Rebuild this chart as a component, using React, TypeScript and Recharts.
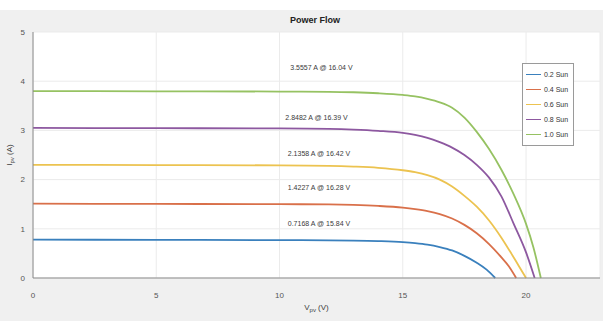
import {
  CartesianGrid,
  Line,
  LineChart,
  ReferenceDot,
  XAxis,
  YAxis,
} from 'recharts';

const FONT = '"Liberation Sans", Arial, sans-serif';

const SERIES_NAMES = ['0.2 Sun', '0.4 Sun', '0.6 Sun', '0.8 Sun', '1.0 Sun'];
const COLORS = ['#3a80bd', '#d9704a', '#ecc350', '#8d58a0', '#96c262'];

// I-V curves, V in volts, I in amps
const V_02 = [0, 5, 10, 12, 13, 14, 15, 15.5, 16, 16.5, 17, 17.5, 18, 18.4, 18.75];
const I_02 = [0.78, 0.775, 0.77, 0.765, 0.76, 0.75, 0.73, 0.71, 0.68, 0.63, 0.56, 0.45, 0.31, 0.17, 0];

const V_04 = [0, 5, 10, 12, 13, 14, 15, 15.5, 16, 16.5, 17, 17.5, 18, 18.5, 19, 19.3, 19.6];
const I_04 = [1.51, 1.505, 1.5, 1.495, 1.485, 1.465, 1.43, 1.4, 1.36, 1.3, 1.21, 1.08, 0.91, 0.69, 0.42, 0.24, 0];

const V_06 = [0, 5, 10, 12, 13, 14, 15, 15.5, 16, 16.5, 17, 17.5, 18, 18.5, 19, 19.4, 19.7, 20];
const I_06 = [2.3, 2.295, 2.29, 2.28, 2.265, 2.24, 2.19, 2.15, 2.09, 2.0, 1.86, 1.67, 1.45, 1.17, 0.82, 0.5, 0.25, 0];

const V_08 = [0, 5, 10, 12, 13, 14, 15, 15.5, 16, 16.5, 17, 17.5, 18, 18.5, 19, 19.5, 20, 20.35];
const I_08 = [3.05, 3.045, 3.04, 3.03, 3.015, 2.99, 2.95, 2.91, 2.85, 2.76, 2.65, 2.5, 2.3, 2.04, 1.66, 1.1, 0.52, 0];

const V_10 = [0, 5, 10, 12, 13, 14, 15, 15.5, 16, 16.5, 17, 17.5, 18, 18.5, 19, 19.5, 20, 20.3, 20.6];
const I_10 = [3.8, 3.795, 3.79, 3.785, 3.775, 3.755, 3.72, 3.69, 3.64, 3.57, 3.46, 3.26, 2.97, 2.62, 2.2, 1.7, 1.1, 0.62, 0];

const VOLTS = [V_02, V_04, V_06, V_08, V_10];
const AMPS = [I_02, I_04, I_06, I_08, I_10];

// max power point annotations
const MPP_TEXT = [
  '0.7168 A @ 15.84 V',
  '1.4227 A @ 16.28 V',
  '2.1358 A @ 16.42 V',
  '2.8482 A @ 16.39 V',
  '3.5557 A @ 16.04 V',
];
const MPP_LABEL_V = [11.6, 11.6, 11.6, 11.5, 11.7];
const MPP_LABEL_I = [1.1, 1.83, 2.54, 3.27, 4.27];

const X_TICKS = [0, 5, 10, 15, 20];
const Y_TICKS = [0, 1, 2, 3, 4, 5];

const seriesData = VOLTS.map((vs, s) => vs.map((v, i) => ({ v, i: AMPS[s][i] })));

function YLabel({ viewBox }: any) {
  const cx = 12;
  const cy = viewBox.y + viewBox.height / 2;
  return (
    <text
      x={cx}
      y={cy}
      transform={`rotate(-90 ${cx} ${cy})`}
      textAnchor="middle"
      fontSize={8}
      fontFamily={FONT}
      fill="#404040"
    >
      I<tspan fontSize={6} dy={2}>pv</tspan>
      <tspan dy={-2}>  (A)</tspan>
    </text>
  );
}

function XLabel({ viewBox }: any) {
  const cx = viewBox.x + viewBox.width / 2;
  return (
    <text x={cx} y={310} textAnchor="middle" fontSize={8} fontFamily={FONT} fill="#404040">
      V<tspan fontSize={6} dy={2}>pv</tspan>
      <tspan dy={-2}>  (V)</tspan>
    </text>
  );
}

function LegendBox() {
  return (
    <div
      style={{
        position: 'absolute',
        top: 53,
        left: 522,
        width: 52,
        background: '#fff',
        border: '1px solid #9a9a9a',
        padding: '3px 3px',
        fontFamily: FONT,
        fontSize: 7,
        color: '#333',
        boxSizing: 'border-box',
      }}
    >
      {SERIES_NAMES.map((n, s) => (
        <div key={n} style={{ display: 'flex', alignItems: 'center', height: 15 }}>
          <span
            style={{
              display: 'inline-block',
              width: 15,
              height: 0,
              borderTop: `1.5px solid ${COLORS[s]}`,
              marginRight: 3,
            }}
          />
          {n}
        </div>
      ))}
    </div>
  );
}

export default function App() {
  return (
    <div
      style={{
        position: 'absolute',
        left: 0,
        top: 0,
        width: 603,
        height: 321,
        background: '#f0f0f0',
        borderTop: '10px solid #ffffff',
        boxSizing: 'border-box',
      }}
    >
      <div style={{ position: 'absolute', left: 0, top: -10 }}>
        <LineChart width={603} height={321} margin={{ top: 32, right: 3, left: 5, bottom: 13 }}>
          <CartesianGrid stroke="#ebebeb" strokeWidth={1} fill="#ffffff" />
          <XAxis
            type="number"
            dataKey="v"
            domain={[0, 23]}
            ticks={X_TICKS}
            allowDataOverflow
            height={30}
            stroke="#8a8a8a"
            tickLine={false}
            tick={{ fontSize: 8, fill: '#555', fontFamily: FONT }}
            tickMargin={8}
            label={<XLabel />}
          />
          <YAxis
            type="number"
            domain={[0, 5]}
            ticks={Y_TICKS}
            width={28}
            stroke="#8a8a8a"
            tickLine={false}
            tick={{ fontSize: 8, fill: '#555', fontFamily: FONT }}
            tickMargin={2}
            label={<YLabel />}
          />
          <YAxis
            yAxisId="right"
            orientation="right"
            type="number"
            domain={[0, 5]}
            ticks={Y_TICKS}
            width={0}
            stroke="#8a8a8a"
            tick={false}
            tickLine={false}
          />
          <XAxis
            xAxisId="top"
            orientation="top"
            type="number"
            domain={[0, 23]}
            ticks={X_TICKS}
            height={0}
            stroke="#7a7a7a"
            strokeWidth={2}
            tick={false}
            tickLine={false}
          />
          {seriesData.map((d, s) => (
            <Line
              key={SERIES_NAMES[s]}
              data={d}
              dataKey="i"
              name={SERIES_NAMES[s]}
              type="monotone"
              stroke={COLORS[s]}
              strokeWidth={1.8}
              dot={false}
              isAnimationActive={false}
            />
          ))}
          {MPP_TEXT.map((t, s) => (
            <ReferenceDot
              key={t}
              x={MPP_LABEL_V[s]}
              y={MPP_LABEL_I[s]}
              r={0}
              fill="none"
              stroke="none"
              label={{
                value: t,
                position: 'center',
                fontSize: 7,
                fill: '#3a3a3a',
                fontFamily: FONT,
              }}
            />
          ))}
        </LineChart>
      </div>
      <div
        style={{
          position: 'absolute',
          top: 5,
          left: 0,
          width: 630,
          textAlign: 'center',
          fontFamily: FONT,
          fontSize: 9,
          fontWeight: 'bold',
          color: '#222',
        }}
      >
        Power Flow
      </div>
      <LegendBox />
    </div>
  );
}
